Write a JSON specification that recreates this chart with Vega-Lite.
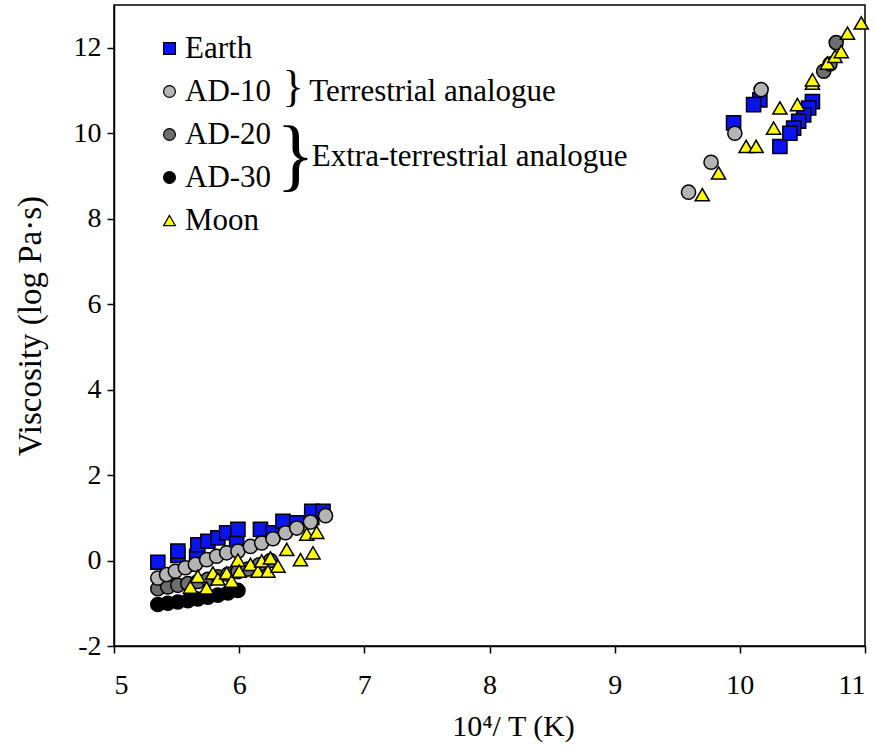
{
  "$schema": "https://vega.github.io/schema/vega-lite/v6.json",
  "width": 751,
  "height": 641,
  "autosize": {"type": "none"},
  "padding": {"left": 114, "top": 5, "right": 12, "bottom": 103},
  "background": "white",
  "config": {
    "font": "Liberation Serif",
    "view": {"stroke": "black", "strokeWidth": 1.5},
    "style": {
      "guide-label": {"font": "Liberation Serif", "fill": "black"},
      "guide-title": {"font": "Liberation Serif", "fill": "black"}
    },
    "axis": {
      "grid": false,
      "domainColor": "black",
      "domainWidth": 1.5,
      "tickColor": "black",
      "tickWidth": 1.5,
      "tickSize": 7,
      "labelFont": "Liberation Serif",
      "labelFontSize": 28,
      "labelColor": "black",
      "titleFont": "Liberation Serif",
      "titleFontSize": 31,
      "titleFontWeight": "normal",
      "titleColor": "black"
    }
  },
  "datasets": {
    "pts": [
      {"s": "Earth", "x": 5.35, "y": -0.04}, {"s": "Earth", "x": 5.51, "y": 0.12}, {"s": "Earth", "x": 5.51, "y": 0.22},
      {"s": "Earth", "x": 5.66, "y": 0.10}, {"s": "Earth", "x": 5.67, "y": 0.37}, {"s": "Earth", "x": 5.75, "y": 0.45},
      {"s": "Earth", "x": 5.83, "y": 0.53}, {"s": "Earth", "x": 5.90, "y": 0.65}, {"s": "Earth", "x": 5.98, "y": 0.41},
      {"s": "Earth", "x": 5.99, "y": 0.73}, {"s": "Earth", "x": 6.17, "y": 0.73}, {"s": "Earth", "x": 6.27, "y": 0.65},
      {"s": "Earth", "x": 6.35, "y": 0.92}, {"s": "Earth", "x": 6.46, "y": 0.88}, {"s": "Earth", "x": 6.58, "y": 1.00},
      {"s": "Earth", "x": 6.58, "y": 1.15}, {"s": "Earth", "x": 6.67, "y": 1.15},
      {"s": "Earth", "x": 9.95, "y": 10.24}, {"s": "Earth", "x": 10.16, "y": 10.78}, {"s": "Earth", "x": 10.11, "y": 10.67},
      {"s": "Earth", "x": 10.32, "y": 9.69}, {"s": "Earth", "x": 10.58, "y": 10.74}, {"s": "Earth", "x": 10.55, "y": 10.59},
      {"s": "Earth", "x": 10.51, "y": 10.43}, {"s": "Earth", "x": 10.47, "y": 10.28}, {"s": "Earth", "x": 10.43, "y": 10.12},
      {"s": "Earth", "x": 10.40, "y": 10.00},
      {"s": "AD-30", "x": 5.35, "y": -1.03}, {"s": "AD-30", "x": 5.43, "y": -1.0}, {"s": "AD-30", "x": 5.51, "y": -0.97},
      {"s": "AD-30", "x": 5.59, "y": -0.94}, {"s": "AD-30", "x": 5.67, "y": -0.9}, {"s": "AD-30", "x": 5.75, "y": -0.86},
      {"s": "AD-30", "x": 5.83, "y": -0.81}, {"s": "AD-30", "x": 5.91, "y": -0.76}, {"s": "AD-30", "x": 5.99, "y": -0.7},
      {"s": "AD-20", "x": 5.35, "y": -0.66}, {"s": "AD-20", "x": 5.43, "y": -0.62}, {"s": "AD-20", "x": 5.51, "y": -0.58},
      {"s": "AD-20", "x": 5.59, "y": -0.54}, {"s": "AD-20", "x": 5.67, "y": -0.49}, {"s": "AD-20", "x": 5.75, "y": -0.44},
      {"s": "AD-20", "x": 5.83, "y": -0.38}, {"s": "AD-20", "x": 5.91, "y": -0.32}, {"s": "AD-20", "x": 5.99, "y": -0.26},
      {"s": "AD-20", "x": 6.07, "y": -0.2}, {"s": "AD-20", "x": 6.16, "y": -0.1}, {"s": "AD-20", "x": 6.25, "y": 0.0},
      {"s": "AD-20", "x": 10.67, "y": 11.45}, {"s": "AD-20", "x": 10.72, "y": 11.62}, {"s": "AD-20", "x": 10.77, "y": 12.12},
      {"s": "AD-10", "x": 5.35, "y": -0.41}, {"s": "AD-10", "x": 5.42, "y": -0.33}, {"s": "AD-10", "x": 5.49, "y": -0.25},
      {"s": "AD-10", "x": 5.57, "y": -0.17}, {"s": "AD-10", "x": 5.65, "y": -0.09}, {"s": "AD-10", "x": 5.74, "y": 0.02},
      {"s": "AD-10", "x": 5.82, "y": 0.10}, {"s": "AD-10", "x": 5.90, "y": 0.18}, {"s": "AD-10", "x": 5.99, "y": 0.22},
      {"s": "AD-10", "x": 6.09, "y": 0.33}, {"s": "AD-10", "x": 6.18, "y": 0.41}, {"s": "AD-10", "x": 6.27, "y": 0.51},
      {"s": "AD-10", "x": 6.37, "y": 0.65}, {"s": "AD-10", "x": 6.46, "y": 0.76}, {"s": "AD-10", "x": 6.57, "y": 0.90},
      {"s": "AD-10", "x": 6.69, "y": 1.05},
      {"s": "AD-10", "x": 9.59, "y": 8.62}, {"s": "AD-10", "x": 9.77, "y": 9.32}, {"s": "AD-10", "x": 9.96, "y": 10.0},
      {"s": "AD-10", "x": 10.17, "y": 11.02},
      {"s": "Moon", "x": 5.61, "y": -0.62}, {"s": "Moon", "x": 5.67, "y": -0.37}, {"s": "Moon", "x": 5.74, "y": -0.64},
      {"s": "Moon", "x": 5.79, "y": -0.29}, {"s": "Moon", "x": 5.83, "y": -0.43}, {"s": "Moon", "x": 5.90, "y": -0.29},
      {"s": "Moon", "x": 5.94, "y": -0.48}, {"s": "Moon", "x": 5.99, "y": 0.01}, {"s": "Moon", "x": 6.00, "y": -0.25},
      {"s": "Moon", "x": 6.09, "y": -0.09}, {"s": "Moon", "x": 6.15, "y": -0.25}, {"s": "Moon", "x": 6.18, "y": -0.01},
      {"s": "Moon", "x": 6.23, "y": -0.25}, {"s": "Moon", "x": 6.25, "y": 0.06}, {"s": "Moon", "x": 6.31, "y": -0.13},
      {"s": "Moon", "x": 6.38, "y": 0.26}, {"s": "Moon", "x": 6.49, "y": 0.02}, {"s": "Moon", "x": 6.54, "y": 0.62},
      {"s": "Moon", "x": 6.59, "y": 0.18}, {"s": "Moon", "x": 6.62, "y": 0.66},
      {"s": "Moon", "x": 9.70, "y": 8.56}, {"s": "Moon", "x": 9.83, "y": 9.07}, {"s": "Moon", "x": 10.05, "y": 9.69},
      {"s": "Moon", "x": 10.13, "y": 9.69}, {"s": "Moon", "x": 10.27, "y": 10.12}, {"s": "Moon", "x": 10.32, "y": 10.59},
      {"s": "Moon", "x": 10.46, "y": 10.67}, {"s": "Moon", "x": 10.58, "y": 11.17}, {"s": "Moon", "x": 10.58, "y": 11.25},
      {"s": "Moon", "x": 10.70, "y": 11.64}, {"s": "Moon", "x": 10.76, "y": 11.80}, {"s": "Moon", "x": 10.81, "y": 11.91},
      {"s": "Moon", "x": 10.86, "y": 12.34}, {"s": "Moon", "x": 10.97, "y": 12.58}
    ]
  },
  "layer": [
    {
      "data": {"name": "pts"},
      "mark": {"type": "point", "filled": true, "strokeWidth": 1.5, "opacity": 1, "size": 200},
      "encoding": {
        "x": {
          "field": "x", "type": "quantitative",
          "scale": {"domain": [5, 11], "nice": false, "zero": false},
          "axis": {"values": [5, 6, 7, 8, 9, 10, 11], "format": "d", "title": "10⁴/ T (K)",
                   "labelFont": "Liberation Serif", "labelFontSize": 28, "titleFont": "Liberation Serif", "titleFontSize": 30,
                   "titlePadding": 12, "labelPadding": 18, "titleX": 399}
        },
        "y": {
          "field": "y", "type": "quantitative",
          "scale": {"domain": [-2, 13], "nice": false, "zero": false},
          "axis": {"values": [-2, 0, 2, 4, 6, 8, 10, 12], "format": "d", "title": "Viscosity (log Pa·s)",
                   "labelFont": "Liberation Serif", "labelFontSize": 28, "titleFont": "Liberation Serif", "titleFontSize": 33,
                   "titlePadding": 26, "labelPadding": 6,
                   "labelExpr": "replace(datum.label, '−', '-')"}
        },
        "shape": {
          "field": "s", "type": "nominal",
          "scale": {"domain": ["Earth", "AD-10", "AD-20", "AD-30", "Moon"], "range": ["square", "circle", "circle", "circle", "triangle-up"]},
          "legend": {
            "orient": "none", "legendX": 40, "legendY": 28, "title": null,
            "labelFont": "Liberation Serif", "labelFontSize": 31, "labelColor": "black",
            "symbolSize": 140, "symbolStrokeWidth": 1.2,
            "rowPadding": 11, "labelOffset": 0
          }
        },
        "fill": {
          "field": "s", "type": "nominal",
          "scale": {"domain": ["Earth", "AD-10", "AD-20", "AD-30", "Moon"], "range": ["#0a14f0", "#b4b4b4", "#6e6e6e", "#000000", "#ffff00"]},
          "legend": {
            "orient": "none", "legendX": 40, "legendY": 28, "title": null,
            "labelFont": "Liberation Serif", "labelFontSize": 31, "labelColor": "black",
            "symbolSize": 140, "symbolStrokeWidth": 1.2,
            "rowPadding": 11, "labelOffset": 0
          }
        },
        "stroke": {
          "field": "s", "type": "nominal",
          "scale": {"domain": ["Earth", "AD-10", "AD-20", "AD-30", "Moon"], "range": ["#000000", "#000000", "#000000", "#000000", "#000000"]},
          "legend": {
            "orient": "none", "legendX": 40, "legendY": 28, "title": null,
            "labelFont": "Liberation Serif", "labelFontSize": 31, "labelColor": "black",
            "symbolSize": 140, "symbolStrokeWidth": 1.2,
            "rowPadding": 11, "labelOffset": 0
          }
        }
      }
    },
    {
      "data": {"values": [{"x": 6.43, "y": 11.05, "t": "}"}]},
      "mark": {"type": "text", "font": "Liberation Serif", "fontSize": 44, "align": "center", "baseline": "middle", "color": "black"},
      "encoding": {"x": {"field": "x", "type": "quantitative"}, "y": {"field": "y", "type": "quantitative"}, "text": {"field": "t"}}
    },
    {
      "data": {"values": [{"x": 6.45, "y": 9.45, "t": "}"}]},
      "mark": {"type": "text", "font": "Liberation Serif", "fontSize": 80, "align": "center", "baseline": "middle", "color": "black"},
      "encoding": {"x": {"field": "x", "type": "quantitative"}, "y": {"field": "y", "type": "quantitative"}, "text": {"field": "t"}}
    },
    {
      "data": {"values": [{"x": 6.56, "y": 10.97, "t": "Terrestrial analogue"}, {"x": 6.58, "y": 9.45, "t": "Extra-terrestrial analogue"}]},
      "mark": {"type": "text", "font": "Liberation Serif", "fontSize": 31, "align": "left", "baseline": "middle", "color": "black"},
      "encoding": {"x": {"field": "x", "type": "quantitative"}, "y": {"field": "y", "type": "quantitative"}, "text": {"field": "t"}}
    }
  ]
}
